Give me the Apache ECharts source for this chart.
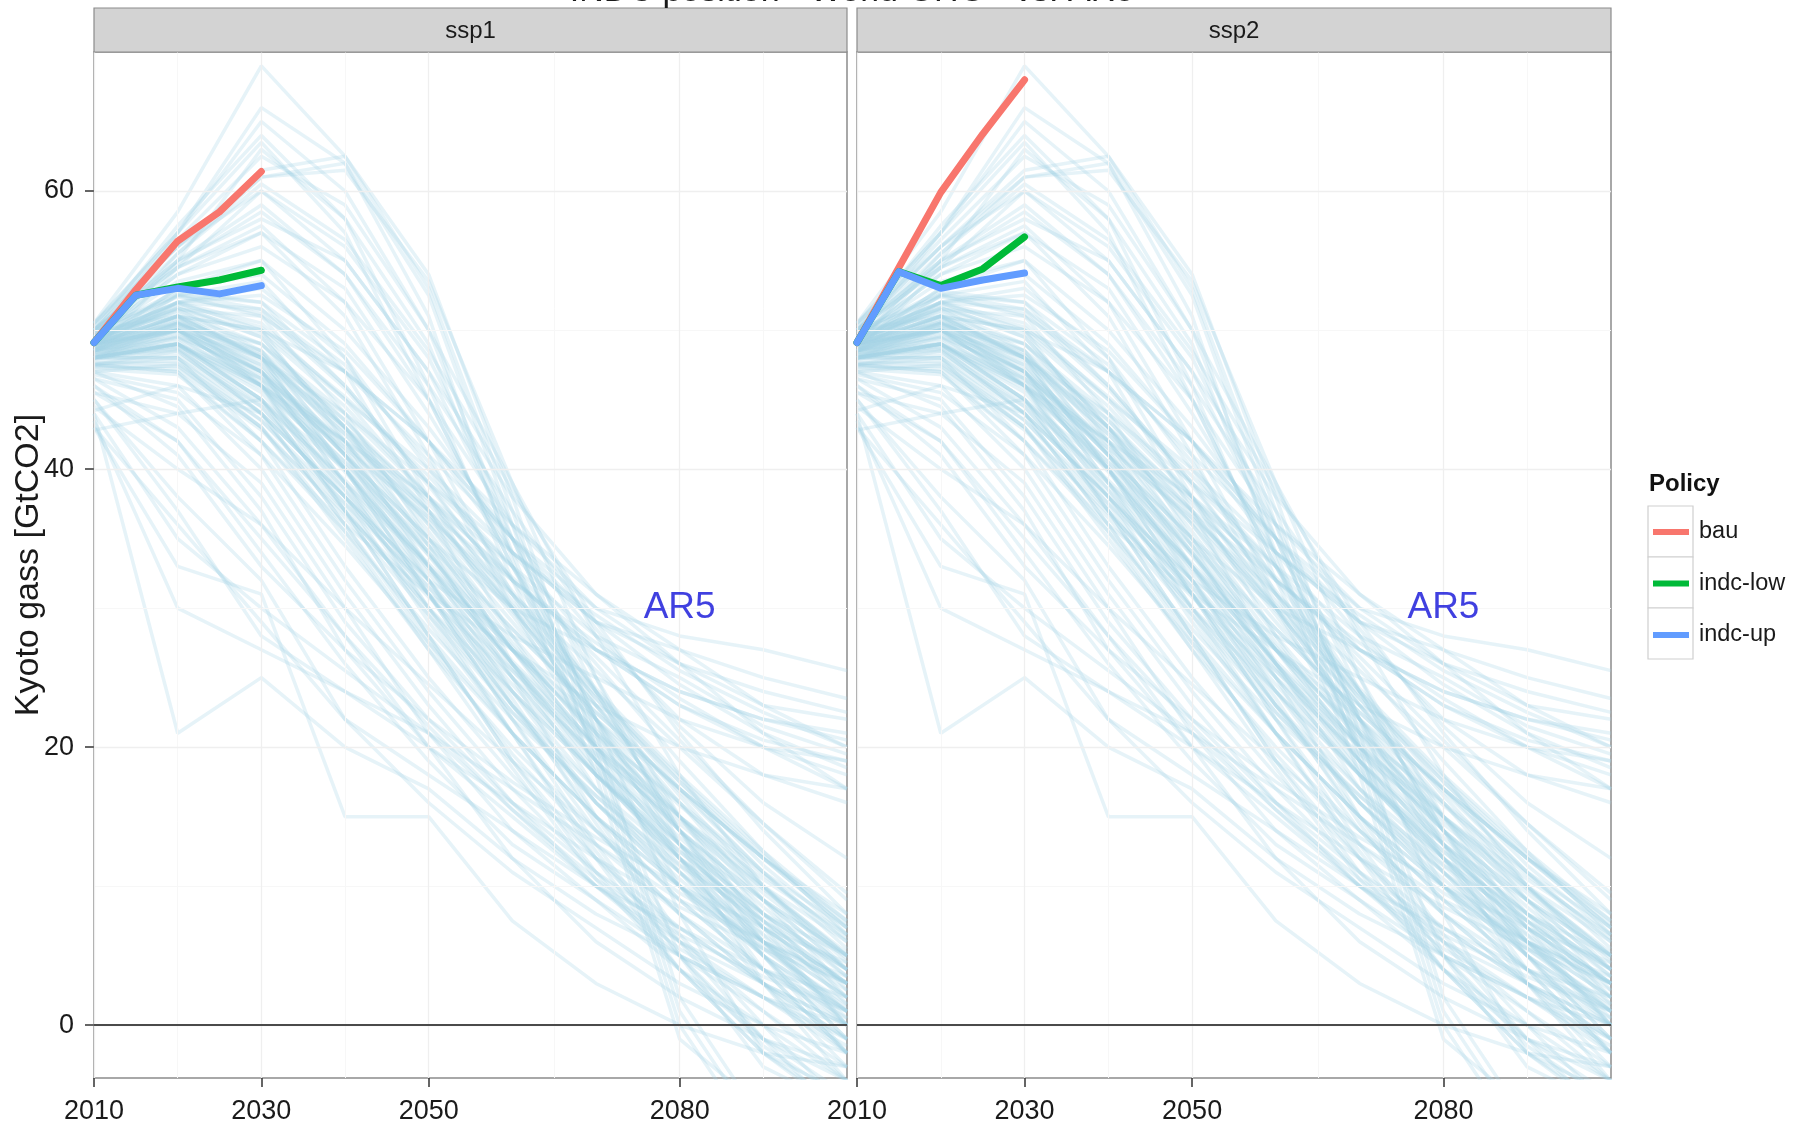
<!DOCTYPE html>
<html>
<head>
<meta charset="utf-8">
<script src="https://cdn.jsdelivr.net/npm/echarts@6/dist/echarts.min.js"></script>
<style>
  html, body { margin: 0; padding: 0; background: #ffffff; }
  #chart { width: 1793px; height: 1125px; }
</style>
</head>
<body>
<div id="chart"></div>
<script>
// ---- facets and policies ----
const panels = ['ssp1', 'ssp2'];
const policies = ['bau', 'indc-low', 'indc-up'];
const policyColors = ['#F8766D', '#00BA38', '#619CFF'];

// ---- policy pathways (GtCO2eq) ----
const policyYears = [2010, 2015, 2020, 2025, 2030];
const ssp1Bau     = [49.1, 52.9, 56.4, 58.5, 61.4];
const ssp1IndcLow = [49.1, 52.5, 53.1, 53.6, 54.3];
const ssp1IndcUp  = [49.1, 52.5, 53.0, 52.6, 53.2];
const ssp2Bau     = [49.1, 54.5, 59.9, 64.1, 68.0];
const ssp2IndcLow = [49.1, 54.2, 53.2, 54.4, 56.7];
const ssp2IndcUp  = [49.1, 54.2, 53.0, 53.6, 54.1];

// ---- AR5 scenario database (same set in both facets) ----
const ar5Years = [2010, 2020, 2030, 2040, 2050, 2060, 2070, 2080, 2090, 2100];
const ar5Delayed = [
  [50.5, 58.5, 69.0, 62.5, 53.0, 37.0, 20.0, 1.0, -8.0, -10.0],
  [49.5, 57.0, 66.0, 62.0, 52.5, 36.0, 19.0, 0.0, -9.0, -11.0],
  [50.0, 56.0, 61.5, 62.5, 54.0, 38.0, 21.0, 2.0, -7.0, -9.0],
  [49.0, 55.5, 61.0, 62.0, 51.0, 33.5, 18.0, -1.0, -6.0, -8.0],
  [49.0, 55.0, 63.0, 58.0, 46.0, 32.0, 20.0, 10.0, 3.0, -3.0],
  [50.5, 57.0, 65.0, 60.0, 50.0, 35.0, 22.0, 12.0, 4.0, -2.0],
  [50.0, 57.5, 64.0, 58.0, 49.0, 34.0, 19.5, 5.0, -3.0, -6.0],
  [48.5, 54.5, 60.0, 55.0, 47.0, 35.0, 22.0, 8.0, -2.0, -5.0],
  [50.2, 56.5, 62.5, 59.0, 50.0, 39.0, 28.0, 18.0, 10.0, 4.0],
  [49.8, 55.5, 60.5, 56.5, 48.5, 38.5, 29.0, 21.0, 14.0, 8.0],
  [50.4, 57.0, 63.5, 57.0, 45.0, 33.0, 23.0, 15.0, 8.0, 2.0],
  [49.6, 54.8, 58.5, 54.0, 46.0, 37.0, 28.5, 21.5, 16.0, 12.0],
  [50.0, 56.0, 61.0, 61.5, 53.5, 39.0, 25.0, 13.0, 3.0, -4.0]
];
const ar5Central = [
  [49.0, 51.0, 48.0, 40.0, 31.0, 23.0, 16.0, 11.0, 6.0, 2.0],
  [48.0, 50.0, 46.0, 38.0, 29.0, 21.0, 15.0, 10.0, 6.0, 3.0],
  [49.5, 52.0, 50.0, 42.0, 33.0, 25.0, 18.0, 12.0, 7.0, 3.0],
  [47.5, 48.5, 44.0, 36.0, 28.0, 21.0, 15.0, 9.0, 4.0, 0.0],
  [48.0, 49.0, 45.0, 37.0, 30.0, 23.0, 17.0, 12.0, 8.0, 5.0],
  [49.0, 50.5, 47.0, 39.0, 32.0, 24.0, 17.0, 11.0, 5.0, -1.0],
  [48.5, 50.0, 47.5, 41.0, 34.0, 26.0, 19.0, 13.0, 8.0, 4.0],
  [47.0, 47.5, 43.0, 35.0, 27.0, 20.0, 14.0, 8.0, 3.0, -2.0],
  [50.0, 52.5, 51.0, 44.0, 35.0, 27.0, 20.0, 14.0, 9.0, 5.0],
  [48.0, 48.0, 42.0, 33.0, 25.0, 18.0, 12.0, 7.0, 3.0, 0.0],
  [49.0, 51.0, 49.0, 43.0, 36.0, 28.0, 21.0, 15.0, 10.0, 6.0],
  [48.5, 49.5, 46.0, 40.0, 33.0, 26.0, 20.0, 14.0, 9.0, 4.0],
  [47.5, 47.0, 41.0, 32.0, 24.0, 17.0, 11.0, 6.0, 1.0, -3.0],
  [49.5, 51.5, 48.5, 41.0, 32.0, 23.0, 15.0, 9.0, 4.0, 1.0],
  [48.0, 49.0, 45.5, 39.0, 31.0, 22.0, 14.0, 8.0, 3.0, -1.0],
  [49.0, 50.0, 47.0, 42.0, 35.0, 27.0, 19.0, 12.0, 6.0, 2.0],
  [48.5, 50.5, 48.0, 43.0, 37.0, 30.0, 22.0, 15.0, 9.0, 4.0],
  [50.0, 51.0, 46.0, 37.0, 28.0, 19.0, 12.0, 6.0, 2.0, -2.0],
  [47.0, 46.0, 40.0, 31.0, 23.0, 16.0, 10.0, 5.0, 1.0, -4.0],
  [48.0, 48.5, 44.0, 38.0, 32.0, 25.0, 18.0, 12.0, 7.0, 3.0],
  [49.0, 50.0, 46.5, 40.5, 34.0, 27.0, 21.0, 16.0, 11.0, 7.0],
  [48.5, 49.0, 45.0, 39.0, 33.0, 27.0, 22.0, 17.0, 12.0, 8.0],
  [47.5, 48.0, 43.5, 37.0, 30.0, 24.0, 18.0, 13.0, 9.0, 5.0],
  [49.5, 52.0, 50.5, 45.0, 38.0, 30.0, 22.0, 14.0, 7.0, 2.0],
  [48.0, 49.5, 47.0, 41.0, 33.0, 24.0, 16.0, 10.0, 5.0, 1.0],
  [48.8, 50.2, 47.8, 42.5, 36.0, 29.0, 22.0, 16.0, 10.0, 5.0],
  [49.2, 51.8, 49.5, 43.0, 35.5, 27.5, 20.5, 14.0, 8.5, 3.5],
  [48.2, 49.2, 45.0, 38.5, 31.5, 24.5, 18.0, 12.5, 7.5, 3.0],
  [47.8, 48.2, 44.5, 38.0, 31.0, 23.0, 16.0, 10.0, 5.0, 1.0],
  [49.6, 52.6, 51.5, 46.0, 39.0, 31.0, 23.5, 16.5, 10.0, 4.5],
  [48.6, 50.4, 48.5, 43.5, 37.5, 31.0, 24.0, 17.5, 11.5, 6.5],
  [47.2, 46.8, 42.0, 35.5, 28.5, 22.0, 16.5, 11.0, 6.5, 2.5],
  [48.4, 49.8, 46.5, 40.0, 32.5, 25.5, 19.0, 13.5, 8.0, 3.5],
  [49.8, 52.8, 52.0, 47.5, 40.5, 32.0, 24.0, 17.0, 11.0, 6.0],
  [46.8, 45.5, 41.0, 34.5, 27.5, 21.0, 15.0, 10.0, 5.5, 1.5],
  [48.0, 49.0, 46.0, 41.5, 36.5, 31.0, 25.5, 20.0, 14.5, 9.5],
  [49.4, 51.2, 48.0, 41.5, 34.0, 26.0, 18.5, 12.0, 6.0, 0.5],
  [47.6, 47.6, 43.5, 37.5, 31.5, 25.5, 20.0, 15.0, 10.5, 6.5],
  [48.6, 50.0, 46.0, 38.5, 30.0, 22.5, 16.0, 10.5, 5.5, 1.0],
  [49.0, 50.8, 48.5, 42.0, 34.5, 27.0, 20.0, 13.0, 6.5, 0.0],
  [48.2, 48.8, 44.0, 36.0, 27.5, 19.5, 13.0, 8.0, 4.0, 0.5],
  [47.4, 47.4, 43.0, 36.5, 29.5, 22.5, 16.5, 11.5, 7.5, 4.0],
  [48.8, 50.6, 48.0, 42.5, 36.5, 30.0, 23.0, 16.0, 9.0, 2.5],
  [49.2, 51.4, 49.0, 43.5, 37.0, 29.5, 21.5, 14.0, 7.5, 1.5],
  [48.4, 49.4, 46.0, 40.5, 34.5, 28.5, 22.5, 17.0, 12.0, 7.5],
  [42.8, 44.0, 45.0, 40.0, 33.0, 26.0, 19.0, 13.0, 8.0, 4.0],
  [44.2, 46.0, 44.0, 38.0, 31.0, 24.0, 18.0, 12.5, 7.5, 3.0],
  [48.9, 50.6, 47.2, 41.0, 35.0, 28.5, 22.5, 17.0, 12.0, 7.0],
  [48.3, 49.6, 46.8, 41.8, 36.2, 29.8, 23.0, 16.8, 11.0, 5.5],
  [49.3, 51.6, 49.8, 44.5, 38.0, 30.5, 23.5, 17.5, 12.0, 7.0],
  [47.9, 48.9, 45.8, 40.2, 33.8, 27.2, 20.8, 15.0, 9.8, 5.0],
  [48.7, 50.3, 47.5, 41.2, 33.8, 25.8, 18.2, 11.5, 5.8, 1.2],
  [49.1, 50.9, 48.2, 42.8, 36.8, 30.2, 23.8, 17.8, 12.2, 7.2],
  [48.1, 48.7, 44.8, 39.2, 33.2, 27.0, 21.2, 15.8, 10.8, 6.2],
  [49.7, 52.4, 51.2, 45.8, 38.8, 31.2, 24.2, 18.0, 12.5, 7.5],
  [48.5, 49.9, 46.2, 39.8, 32.8, 26.2, 20.2, 14.8, 9.8, 5.2],
  [47.3, 47.2, 42.8, 36.8, 30.8, 25.0, 19.5, 14.5, 9.5, 4.8],
  [49.5, 51.9, 50.2, 45.2, 39.5, 33.0, 26.0, 19.0, 12.5, 6.5],
  [48.9, 50.5, 48.2, 43.0, 37.8, 32.2, 26.5, 20.5, 14.5, 9.0]
];
const ar5Slow = [
  [49.5, 54.0, 56.0, 52.0, 45.0, 36.0, 30.0, 28.0, 27.0, 25.5],
  [49.0, 53.0, 54.0, 49.0, 42.0, 34.0, 29.0, 27.0, 25.0, 23.5],
  [50.0, 55.0, 58.0, 55.0, 47.0, 38.0, 31.0, 27.0, 23.0, 20.0],
  [48.5, 52.0, 53.0, 48.0, 40.0, 32.0, 27.0, 24.0, 22.0, 21.0],
  [49.0, 52.5, 52.0, 46.0, 39.0, 33.0, 28.0, 25.0, 21.5, 19.5],
  [48.0, 50.5, 49.0, 44.0, 38.0, 32.0, 27.0, 23.0, 20.0, 18.0],
  [49.5, 53.5, 55.0, 50.0, 43.0, 35.0, 28.0, 22.0, 18.0, 16.0],
  [50.0, 54.5, 57.0, 53.0, 44.0, 34.0, 27.0, 23.0, 20.5, 19.0],
  [48.5, 51.0, 50.0, 45.0, 40.0, 34.0, 29.0, 26.0, 23.0, 22.0],
  [49.0, 52.0, 51.5, 47.0, 42.0, 36.0, 31.0, 26.0, 21.0, 17.0],
  [47.5, 47.0, 42.0, 36.0, 31.0, 27.0, 23.0, 20.0, 18.0, 17.0],
  [48.0, 48.0, 44.0, 38.0, 32.0, 28.0, 25.0, 22.0, 20.0, 19.0],
  [49.0, 50.0, 47.0, 41.0, 35.0, 30.0, 27.0, 24.0, 22.0, 20.5],
  [48.8, 50.0, 48.0, 44.0, 39.0, 34.0, 29.5, 25.5, 22.5, 20.0],
  [49.4, 52.0, 52.5, 48.5, 42.0, 35.0, 29.0, 24.5, 21.0, 18.5],
  [48.2, 49.0, 46.5, 42.0, 37.0, 32.0, 27.5, 23.5, 20.0, 17.0],
  [49.0, 51.5, 51.0, 47.0, 41.0, 35.0, 30.0, 26.0, 24.0, 22.5]
];
const ar5Early = [
  [43.0, 33.0, 31.0, 15.0, 15.0, 7.5, 3.0, 0.0, -2.0, -3.0],
  [44.0, 21.0, 25.0, 20.0, 17.0, 12.0, 8.0, 5.0, 2.0, 0.0],
  [45.0, 38.0, 32.0, 22.0, 16.0, 11.0, 7.0, 3.0, 0.0, -2.0],
  [46.0, 42.0, 34.0, 26.0, 19.0, 13.0, 9.0, 5.0, 2.0, -1.0],
  [44.5, 40.0, 36.0, 28.0, 20.0, 12.0, 6.0, 2.0, -1.0, -3.0],
  [45.5, 44.0, 39.0, 30.0, 21.0, 14.0, 9.0, 4.0, 0.0, -4.0],
  [46.5, 45.0, 38.0, 29.0, 22.0, 16.0, 11.0, 7.0, 3.0, -1.0],
  [43.0, 36.0, 29.0, 22.0, 18.0, 14.0, 10.0, 7.0, 4.0, 2.0],
  [47.0, 44.5, 37.0, 27.0, 20.0, 15.0, 10.0, 6.0, 3.0, 0.0],
  [46.0, 41.0, 33.0, 27.0, 22.0, 17.5, 13.5, 10.0, 7.0, 4.5],
  [45.0, 37.0, 28.0, 24.0, 20.0, 16.0, 12.0, 8.5, 5.5, 3.0],
  [44.0, 35.0, 30.0, 25.5, 21.0, 15.5, 10.5, 6.5, 3.5, 1.0],
  [46.5, 43.0, 36.0, 30.0, 24.5, 19.0, 14.0, 9.5, 6.0, 3.0],
  [45.5, 42.0, 35.0, 28.0, 21.5, 15.5, 10.0, 5.5, 2.0, -1.5],
  [43.5, 30.0, 27.0, 24.0, 21.0, 17.0, 13.0, 9.0, 6.0, 3.5]
];
const ar5Peaking = [
  [50.0, 55.0, 59.0, 54.0, 45.0, 33.0, 22.0, 13.0, 6.0, 1.0],
  [49.5, 54.0, 57.0, 51.0, 41.0, 30.0, 20.0, 12.0, 5.0, -1.0],
  [50.5, 56.0, 60.0, 56.0, 48.0, 36.0, 24.0, 14.0, 6.0, 0.0],
  [49.0, 53.0, 55.0, 48.0, 38.0, 28.0, 19.0, 11.0, 5.0, 0.0],
  [48.5, 52.5, 53.5, 47.0, 37.0, 26.0, 17.0, 10.0, 4.0, -2.0],
  [50.0, 54.5, 57.5, 52.0, 42.0, 31.0, 21.0, 13.0, 7.0, 3.0],
  [48.0, 49.0, 46.0, 42.0, 38.0, 33.0, 24.0, 14.0, 5.0, -2.0],
  [49.0, 51.0, 50.0, 47.0, 42.0, 35.0, 25.0, 15.0, 7.0, 0.0],
  [48.5, 50.0, 47.0, 39.0, 30.0, 21.0, 12.0, 4.0, -2.0, -6.0],
  [49.0, 51.0, 48.0, 40.0, 31.0, 22.0, 13.0, 5.0, -1.0, -5.0],
  [48.0, 49.0, 45.0, 37.0, 28.0, 19.0, 11.0, 4.0, -1.0, -4.0],
  [48.6, 50.2, 47.0, 40.0, 32.0, 23.5, 14.5, 6.0, -1.0, -7.0],
  [49.2, 51.6, 49.5, 43.0, 34.5, 25.0, 15.0, 6.5, 0.0, -6.0],
  [48.0, 48.6, 44.5, 37.5, 29.5, 21.0, 12.5, 5.0, -1.5, -5.5],
  [47.6, 47.8, 43.0, 35.5, 27.0, 18.5, 10.5, 4.0, -2.0, -6.5]
];

// ---- axes ----
const xTicks = [2010, 2030, 2050, 2080];
const xMinor = [2020, 2040, 2065, 2090];
const yTicks = [0, 20, 40, 60];
const yMinor = [10, 30, 50];
const ar5LabelAt = [2080, 30];

const policyData = [
  [ssp1Bau, ssp1IndcLow, ssp1IndcUp],
  [ssp2Bau, ssp2IndcLow, ssp2IndcUp]
];
const ar5All = [].concat(ar5Delayed, ar5Central, ar5Slow, ar5Early, ar5Peaking);

const gridBoxes = [
  { left: 94, top: 52, width: 753, height: 1026 },
  { left: 857, top: 52, width: 754, height: 1026 }
];
const labelFont = '"Liberation Sans Narrow", "Liberation Sans", Arial, sans-serif';
const textFont = '"Liberation Sans", Arial, sans-serif';

const grids = gridBoxes.map(b => Object.assign({
  show: true, backgroundColor: '#ffffff', borderColor: '#8c8c8c', borderWidth: 1.5,
  containLabel: false
}, b));

const xAxes = panels.map((p, gi) => ({
  type: 'value', gridIndex: gi, min: 2010, max: 2100,
  axisLine: { show: false, onZero: false },
  splitLine: { show: false },
  axisTick: { show: true, customValues: xTicks, length: 9, lineStyle: { color: '#333333', width: 1.5 } },
  axisLabel: {
    customValues: xTicks, fontSize: 27, fontFamily: labelFont, color: '#1a1a1a', margin: 20,
    formatter: v => String(v)
  }
}));

const yAxes = panels.map((p, gi) => ({
  type: 'value', gridIndex: gi, min: -3.8, max: 70,
  axisLine: { show: false, onZero: false },
  splitLine: { show: false },
  axisTick: { show: gi === 0, customValues: yTicks, length: 9, lineStyle: { color: '#333333', width: 1.5 } },
  axisLabel: { show: gi === 0, customValues: yTicks, fontSize: 27, fontFamily: labelFont, color: '#1a1a1a', margin: 20 },
  name: gi === 0 ? 'Kyoto gass [GtCO2]' : '',
  nameLocation: 'middle', nameGap: 48, nameMoveOverlap: false,
  nameTextStyle: { fontSize: 34, fontFamily: textFont, color: '#1a1a1a' }
}));

const series = [];
panels.forEach((p, gi) => {
  // background grid and zero line
  series.push({
    type: 'line', xAxisIndex: gi, yAxisIndex: gi, data: [], silent: true, z: 1,
    markLine: {
      silent: true, symbol: 'none', animation: false, label: { show: false },
      data: [].concat(
        yMinor.map(v => ({ yAxis: v, lineStyle: { color: '#F7F7F7', width: 1, type: 'solid' } })),
        xMinor.map(v => ({ xAxis: v, lineStyle: { color: '#F7F7F7', width: 1, type: 'solid' } })),
        yTicks.map(v => ({ yAxis: v, lineStyle: { color: '#EFEFEF', width: 1.3, type: 'solid' } })),
        xTicks.map(v => ({ xAxis: v, lineStyle: { color: '#EFEFEF', width: 1.3, type: 'solid' } })),
        [{ yAxis: 0, lineStyle: { color: '#4a4a4a', width: 2.2, type: 'solid' } }]
      )
    }
  });
  // AR5 scenario cloud
  ar5All.forEach(vals => {
    series.push({
      type: 'line', xAxisIndex: gi, yAxisIndex: gi, silent: true, symbol: 'none', z: 2,
      data: vals.map((v, j) => [ar5Years[j], v]),
      lineStyle: { color: 'rgba(165,212,230,0.28)', width: 3.5 }
    });
  });
  // policy pathways
  policies.forEach((name, k) => {
    series.push({
      type: 'line', name: name, xAxisIndex: gi, yAxisIndex: gi, symbol: 'none', z: 5,
      color: policyColors[k],
      data: policyData[gi][k].map((v, j) => [policyYears[j], v]),
      lineStyle: { color: policyColors[k], width: 7, join: 'round', cap: 'round' }
    });
  });
  // AR5 annotation
  series.push({
    type: 'scatter', xAxisIndex: gi, yAxisIndex: gi, silent: true, symbolSize: 0, z: 6,
    data: [ar5LabelAt],
    label: { show: true, position: 'inside', formatter: 'AR5', fontSize: 37, fontFamily: textFont, color: '#1010D8' }
  });
});

// facet strips, title and legend frame
const graphic = [];
gridBoxes.forEach((b, gi) => {
  graphic.push({
    type: 'rect', shape: { x: b.left, y: 8, width: b.width, height: 44 },
    style: { fill: '#D3D3D3', stroke: '#8c8c8c', lineWidth: 1.2 }, z: 10
  });
  graphic.push({
    type: 'text', x: b.left + b.width / 2, y: 31, z: 11,
    style: { text: panels[gi], fontSize: 24, fontFamily: textFont, fill: '#1a1a1a', align: 'center', verticalAlign: 'middle' }
  });
});
graphic.push({
  type: 'text', x: 852, y: -8.5, z: 11,
  style: { text: 'INDC position - World GHG - vs. AR5', fontSize: 34, fontFamily: textFont, fill: '#1a1a1a', align: 'center', verticalAlign: 'middle' }
});
graphic.push({
  type: 'text', x: 1649, y: 484, z: 11,
  style: { text: 'Policy', fontSize: 24, fontWeight: 'bold', fontFamily: textFont, fill: '#111111', align: 'left', verticalAlign: 'middle' }
});
[506, 557, 608].forEach(y => {
  graphic.push({
    type: 'rect', shape: { x: 1648, y: y, width: 45, height: 51 },
    style: { fill: '#ffffff', stroke: '#CFCFCF', lineWidth: 1.2 }, z: 0
  });
});

const chart = echarts.init(document.getElementById('chart'), null, { renderer: 'canvas' });
chart.setOption({
  animation: false,
  backgroundColor: '#ffffff',
  grid: grids,
  xAxis: xAxes,
  yAxis: yAxes,
  legend: {
    data: policies, orient: 'vertical', left: 1653, top: 518, padding: 0,
    icon: 'rect', itemWidth: 36, itemHeight: 6, itemGap: 23.5,
    selectedMode: false,
    textStyle: { fontSize: 23.5, fontFamily: textFont, color: '#1a1a1a', lineHeight: 28, padding: [0, 0, 0, 5] }
  },
  graphic: graphic,
  series: series
});
</script>
</body>
</html>
